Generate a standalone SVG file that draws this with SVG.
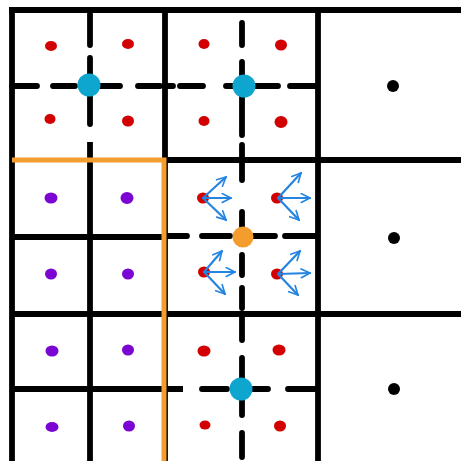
<svg xmlns="http://www.w3.org/2000/svg" width="461" height="461" viewBox="0 0 461 461">
<style>
.g{stroke:#000;stroke-width:5.8;stroke-linecap:round;fill:none}
.gs{stroke:#000;stroke-width:5.8;stroke-linecap:butt;fill:none}
.o{stroke:#f29d2e;stroke-width:5;fill:none}
.r{fill:#d20000}
.p{fill:#7b06d4}
.k{fill:#000}
.c{fill:#0ea6cf}
.a{stroke:#2485e0;stroke-width:2.2;fill:none;stroke-linecap:round;marker-end:url(#ah)}
</style>
<defs>
<marker id="ah" viewBox="0 0 10 10" refX="9" refY="5" markerWidth="11" markerHeight="11" markerUnits="userSpaceOnUse" orient="auto">
<path d="M1,1 L9,5 L1,9" fill="none" stroke="#2485e0" stroke-width="1.5" stroke-linecap="round" stroke-linejoin="round"/>
</marker>
</defs>
<rect width="461" height="461" fill="#fff"/>
<g id="grid">
<path class="gs" d="M9,10H461M12,10V461M165,10V461M318,10V461M165,160H461M12,237H165M12,314H461M12,389H183M90,142V461"/>
</g>
<g id="dashes">
<path class="g" d="M12,86H37M53,86H75M100,86H120M138,86H160M165,86H173M180,86H203M226,86H237M255,86H278M290,86H316"/>
<path class="g" d="M90,14V45M90,58V124"/>
<path class="g" d="M242,23V45M242,62V82M242,97V135M242,145V158"/>
<path class="g" d="M165,236H187M202,236H230M252,236H275M285,236H316"/>
<path class="g" d="M242,162V180M242,212V228M242,255V275M242,288V308"/>
<path class="g" d="M202,389H227M253,389H268M288,389H315"/>
<path class="g" d="M242,315V340M242,358V383M242,397V415M242,433V457"/>
</g>
<g id="orange">
<path class="o" d="M12,160H164V461"/>
</g>
<g id="dots">
<ellipse class="r" cx="51" cy="46" rx="6" ry="5"/>
<ellipse class="r" cx="128" cy="44" rx="6" ry="5"/>
<ellipse class="r" cx="50" cy="119" rx="5.5" ry="5"/>
<ellipse class="r" cx="128" cy="121" rx="6" ry="5.5"/>
<ellipse class="r" cx="204" cy="44" rx="5.5" ry="5"/>
<ellipse class="r" cx="281" cy="45" rx="6" ry="5.5"/>
<ellipse class="r" cx="204" cy="121" rx="5.5" ry="5"/>
<ellipse class="r" cx="281" cy="122" rx="6.5" ry="6"/>
<ellipse class="r" cx="203" cy="198" rx="6" ry="5.5"/>
<ellipse class="r" cx="277" cy="198" rx="6" ry="5.5"/>
<ellipse class="r" cx="204" cy="272" rx="6" ry="5.5"/>
<ellipse class="r" cx="277" cy="274" rx="6" ry="5.5"/>
<ellipse class="r" cx="204" cy="351" rx="6.5" ry="5.5"/>
<ellipse class="r" cx="279" cy="350" rx="6.5" ry="5.5"/>
<ellipse class="r" cx="205" cy="425" rx="5.5" ry="4.5"/>
<ellipse class="r" cx="280" cy="426" rx="6" ry="5.5"/>
<ellipse class="p" cx="51" cy="198" rx="6.5" ry="5.5"/>
<ellipse class="p" cx="127" cy="198" rx="6.5" ry="6"/>
<ellipse class="p" cx="51" cy="274" rx="6" ry="5.5"/>
<ellipse class="p" cx="128" cy="274" rx="6" ry="5.5"/>
<ellipse class="p" cx="52" cy="351" rx="6.5" ry="5.5"/>
<ellipse class="p" cx="128" cy="350" rx="6" ry="5.5"/>
<ellipse class="p" cx="52" cy="427" rx="6.5" ry="5"/>
<ellipse class="p" cx="129" cy="426" rx="6" ry="5.5"/>
<circle class="k" cx="393" cy="86" r="6"/>
<circle class="k" cx="394" cy="238" r="6"/>
<circle class="k" cx="394" cy="389" r="6"/>
</g>
<g id="nodes">
<circle id="n1" class="c" cx="89" cy="85" r="11.5"/>
<circle id="n2" class="c" cx="244" cy="86" r="11.5"/>
<circle id="n3" cx="243" cy="237" r="10.5" fill="#f29d2e"/>
<circle id="n4" class="c" cx="241" cy="389" r="11.5"/>
</g>
<g id="arrows">
<line class="a" x1="203" y1="198" x2="226" y2="177"/>
<line class="a" x1="203" y1="198" x2="231" y2="198"/>
<line class="a" x1="203" y1="198" x2="226" y2="220"/>
<line class="a" x1="278" y1="198" x2="301" y2="173"/>
<line class="a" x1="278" y1="198" x2="310" y2="198"/>
<line class="a" x1="278" y1="198" x2="299" y2="220"/>
<line class="a" x1="204" y1="272" x2="222" y2="251"/>
<line class="a" x1="204" y1="272" x2="235" y2="272"/>
<line class="a" x1="204" y1="272" x2="225" y2="294"/>
<line class="a" x1="278" y1="274" x2="300" y2="251"/>
<line class="a" x1="278" y1="274" x2="310" y2="273"/>
<line class="a" x1="278" y1="274" x2="298" y2="295"/>
</g>
</svg>
